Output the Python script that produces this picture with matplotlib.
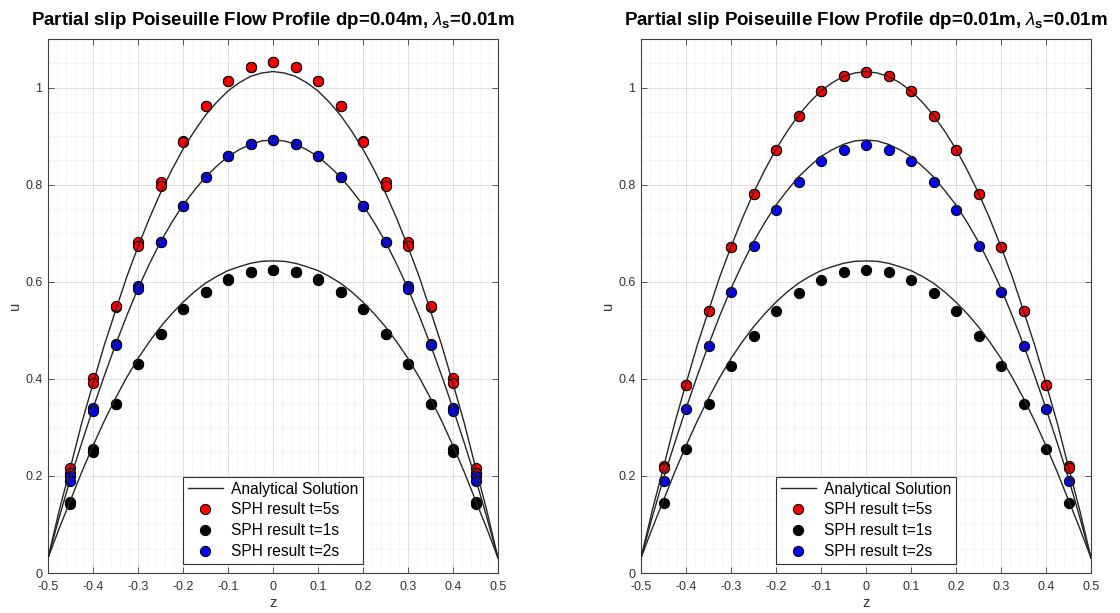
import matplotlib
matplotlib.use('Agg')
import matplotlib.pyplot as plt
from matplotlib.ticker import MultipleLocator

plt.rcParams['font.family'] = ['Liberation Sans', 'DejaVu Sans']
plt.rcParams['mathtext.fontset'] = 'custom'
plt.rcParams['mathtext.rm'] = 'Liberation Sans'
plt.rcParams['mathtext.it'] = 'Liberation Sans:italic'
plt.rcParams['mathtext.bf'] = 'Liberation Sans:bold'

# analytical solution, same in both panels
z_ana = [-0.5, -0.475, -0.45, -0.425, -0.4, -0.375, -0.35, -0.325, -0.3, -0.275,
         -0.25, -0.225, -0.2, -0.175, -0.15, -0.125, -0.1, -0.075, -0.05, -0.025, 0,
         0.025, 0.05, 0.075, 0.1, 0.125, 0.15, 0.175, 0.2, 0.225, 0.25,
         0.275, 0.3, 0.325, 0.35, 0.375, 0.4, 0.425, 0.45, 0.475, 0.5]
ana_t5 = [0.031, 0.129, 0.218, 0.309, 0.390, 0.469, 0.540, 0.610, 0.672, 0.730,
          0.783, 0.830, 0.873, 0.910, 0.943, 0.970, 0.993, 1.010, 1.023, 1.030, 1.033,
          1.030, 1.023, 1.010, 0.993, 0.970, 0.943, 0.910, 0.873, 0.830, 0.783,
          0.730, 0.672, 0.610, 0.540, 0.469, 0.390, 0.309, 0.218, 0.129, 0.031]
ana_t2 = [0.031, 0.115, 0.195, 0.268, 0.339, 0.406, 0.470, 0.530, 0.586, 0.636,
          0.682, 0.722, 0.758, 0.788, 0.816, 0.838, 0.858, 0.872, 0.883, 0.890, 0.892,
          0.890, 0.883, 0.872, 0.858, 0.838, 0.816, 0.788, 0.758, 0.722, 0.682,
          0.636, 0.586, 0.530, 0.470, 0.406, 0.339, 0.268, 0.195, 0.115, 0.031]
ana_t1 = [0.031, 0.092, 0.150, 0.208, 0.262, 0.313, 0.360, 0.403, 0.442, 0.476,
          0.507, 0.534, 0.558, 0.579, 0.597, 0.611, 0.623, 0.631, 0.638, 0.642, 0.643,
          0.642, 0.638, 0.631, 0.623, 0.611, 0.597, 0.579, 0.558, 0.534, 0.507,
          0.476, 0.442, 0.403, 0.360, 0.313, 0.262, 0.208, 0.150, 0.092, 0.031]

# SPH particle positions
z_pts = [-0.45, -0.4, -0.35, -0.3, -0.25, -0.2, -0.15, -0.1, -0.05, 0,
         0.05, 0.1, 0.15, 0.2, 0.25, 0.3, 0.35, 0.4, 0.45]

# dp=0.04m (two particle layers per series)
l_t5_a = [0.216, 0.401, 0.548, 0.682, 0.806, 0.889, 0.961, 1.014, 1.043, 1.053,
          1.043, 1.014, 0.961, 0.890, 0.806, 0.682, 0.548, 0.401, 0.216]
l_t5_b = [0.206, 0.391, 0.550, 0.673, 0.798, 0.887, 0.961, 1.014, 1.043, 1.053,
          1.043, 1.014, 0.961, 0.887, 0.798, 0.673, 0.550, 0.391, 0.206]
l_t1_a = [0.147, 0.255, 0.349, 0.430, 0.493, 0.544, 0.579, 0.606, 0.620, 0.625,
          0.620, 0.606, 0.579, 0.544, 0.493, 0.430, 0.349, 0.255, 0.147]
l_t1_b = [0.143, 0.250, 0.349, 0.430, 0.493, 0.544, 0.579, 0.604, 0.620, 0.625,
          0.620, 0.604, 0.579, 0.544, 0.493, 0.430, 0.349, 0.250, 0.143]
l_t2_a = [0.200, 0.340, 0.472, 0.592, 0.681, 0.757, 0.816, 0.859, 0.883, 0.892,
          0.883, 0.859, 0.816, 0.757, 0.681, 0.592, 0.472, 0.340, 0.200]
l_t2_b = [0.189, 0.334, 0.470, 0.585, 0.681, 0.757, 0.816, 0.859, 0.883, 0.892,
          0.883, 0.859, 0.816, 0.757, 0.681, 0.585, 0.470, 0.334, 0.189]

# dp=0.01m
r_t5_a = [0.220, 0.388, 0.540, 0.671, 0.781, 0.872, 0.942, 0.993, 1.023, 1.033,
          1.023, 0.993, 0.942, 0.872, 0.781, 0.671, 0.540, 0.388, 0.221]
r_t5_b = [0.216, 0.388, 0.540, 0.671, 0.781, 0.872, 0.942, 0.993, 1.023, 1.033,
          1.023, 0.993, 0.942, 0.872, 0.781, 0.671, 0.540, 0.388, 0.217]
r_t1 = [0.145, 0.256, 0.349, 0.426, 0.489, 0.540, 0.577, 0.604, 0.620, 0.625,
        0.620, 0.604, 0.577, 0.540, 0.489, 0.426, 0.349, 0.256, 0.145]
r_t2 = [0.190, 0.338, 0.468, 0.579, 0.673, 0.748, 0.806, 0.848, 0.872, 0.881,
        0.872, 0.848, 0.806, 0.748, 0.673, 0.579, 0.468, 0.338, 0.190]

panels = [
    ('0.04', [l_t5_a, l_t5_b], [l_t1_a, l_t1_b], [l_t2_a, l_t2_b]),
    ('0.01', [r_t5_a, r_t5_b], [r_t1], [r_t2]),
]

fig = plt.figure(figsize=(11.2, 6.13), dpi=100)
lefts = [48 / 1120, 641 / 1120]
axcol = '0.25'

for (dp, red, black, blue), x0 in zip(panels, lefts):
    ax = fig.add_axes([x0, 40 / 613, 450 / 1120, 534 / 613])
    ms = 7.3
    for u in red:
        hr, = ax.plot(z_pts, u, 'o', ms=ms, mfc='red', mec='black', mew=0.8, ls='none', zorder=3)
    for u in black:
        hk, = ax.plot(z_pts, u, 'o', ms=ms, mfc='black', mec='black', mew=0.8, ls='none', zorder=3)
    for u in blue:
        hb, = ax.plot(z_pts, u, 'o', ms=ms, mfc='blue', mec='black', mew=0.8, ls='none', zorder=3)
    ha, = ax.plot(z_ana, ana_t5, color='0.15', lw=1.0, zorder=4)
    ax.plot(z_ana, ana_t2, color='0.15', lw=1.0, zorder=4)
    ax.plot(z_ana, ana_t1, color='0.15', lw=1.0, zorder=4)

    ax.set_xlim(-0.5, 0.5)
    ax.set_ylim(0, 1.1)
    ax.xaxis.set_minor_locator(MultipleLocator(0.02))
    ax.yaxis.set_minor_locator(MultipleLocator(0.05))
    ax.set_xticks([-0.5, -0.4, -0.3, -0.2, -0.1, 0, 0.1, 0.2, 0.3, 0.4, 0.5])
    ax.set_xticklabels(['-0.5', '-0.4', '-0.3', '-0.2', '-0.1', '0', '0.1', '0.2', '0.3', '0.4', '0.5'])
    ax.set_yticks([0, 0.2, 0.4, 0.6, 0.8, 1])
    ax.set_yticklabels(['0', '0.2', '0.4', '0.6', '0.8', '1'])
    ax.grid(which='major', color='0.86', lw=0.6, zorder=0)
    ax.grid(which='minor', color='0.88', lw=0.5, ls=':', zorder=0)
    ax.tick_params(which='major', direction='in', top=True, right=True, length=4,
                   color=axcol, labelsize=9, labelcolor='0.2', width=0.6)
    ax.tick_params(axis='x', which='major', pad=6)
    ax.tick_params(axis='y', which='major', pad=4)
    ax.tick_params(which='minor', length=0, top=True, right=True)
    for s in ax.spines.values():
        s.set_color(axcol)
        s.set_linewidth(0.8)
    ax.set_xlabel('z', fontsize=10.5, color='0.2', labelpad=2)
    ax.set_ylabel('u', fontsize=10.5, color='0.2', labelpad=2)
    ax.set_title('Partial slip Poiseuille Flow Profile dp=' + dp + r'm, $\lambda_\mathbf{s}$=0.01m',
                 fontsize=13.5, fontweight='bold', pad=10)
    leg = ax.legend([ha, hr, hk, hb],
                    ['Analytical Solution', 'SPH result t=5s', 'SPH result t=1s', 'SPH result t=2s'],
                    loc='lower center', bbox_to_anchor=(0.5, 0.017), fontsize=11.2,
                    fancybox=False, framealpha=1, edgecolor='0.2', handlelength=2.3,
                    borderpad=0.3, labelspacing=0.38, handletextpad=0.5, borderaxespad=0)
    leg.get_frame().set_linewidth(0.8)

fig.savefig('out.png', dpi=100)
